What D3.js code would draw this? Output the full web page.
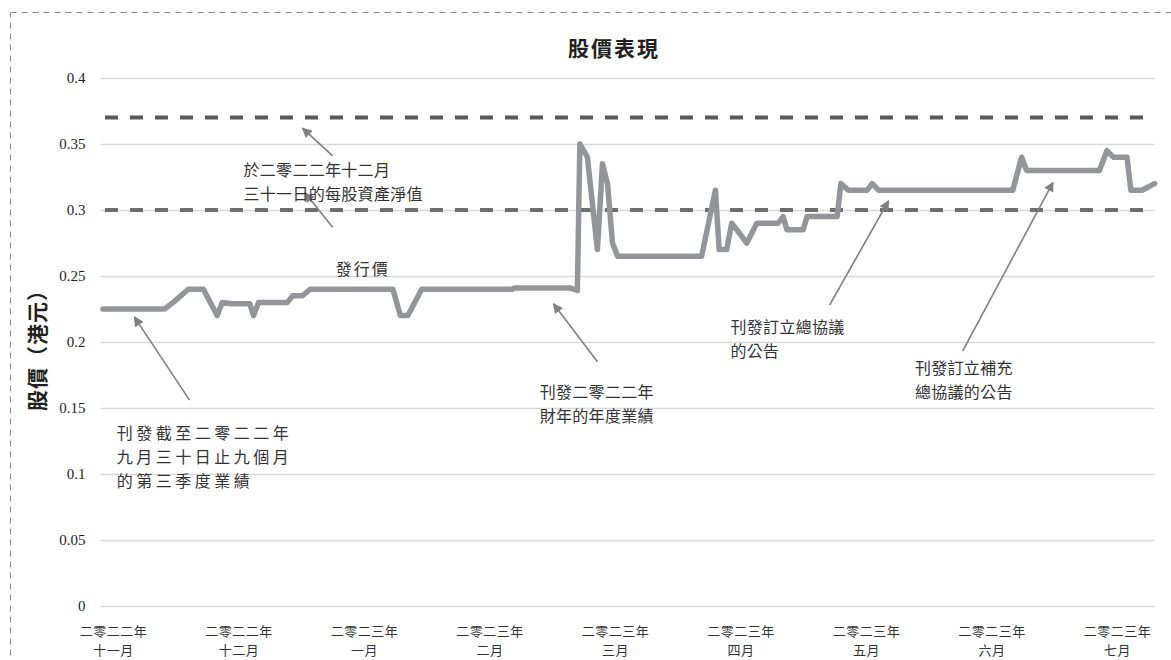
<!DOCTYPE html>
<html>
<head>
<meta charset="utf-8">
<script src="https://cdn.jsdelivr.net/npm/d3@7"></script>
<style>
  body { margin: 0; background: #fff; }
  .cjk { font-family: "Noto Sans CJK TC", "Noto Sans CJK SC", sans-serif; }
</style>
</head>
<body>
<script>
// Share price data (x in month units: 0 = Nov 2022 label, 8 = Jul 2023 label)
const priceT = [-0.08, 0.41, 0.48, 0.60, 0.72, 0.83, 0.87, 0.95, 1.09, 1.12, 1.16, 1.39, 1.43, 1.51, 1.57,
  2.23, 2.29, 2.35, 2.46, 3.18, 3.20, 3.64, 3.70, 3.72, 3.78, 3.86, 3.90, 3.94, 3.98, 4.02,
  4.69, 4.80, 4.83, 4.89, 4.93, 5.05, 5.13, 5.30, 5.34, 5.37, 5.50, 5.53, 5.77, 5.80, 5.86,
  6.01, 6.05, 6.10, 7.17, 7.24, 7.28, 7.86, 7.92, 7.97, 8.08, 8.11, 8.20, 8.30];
const priceV = [0.225, 0.225, 0.23, 0.24, 0.24, 0.22, 0.23, 0.229, 0.229, 0.22, 0.23, 0.23, 0.235, 0.235, 0.24,
  0.24, 0.22, 0.22, 0.24, 0.24, 0.241, 0.241, 0.239, 0.35, 0.34, 0.27, 0.335, 0.32, 0.275, 0.265,
  0.265, 0.315, 0.27, 0.27, 0.29, 0.275, 0.29, 0.29, 0.295, 0.285, 0.285, 0.295, 0.295, 0.32, 0.315,
  0.315, 0.32, 0.315, 0.315, 0.34, 0.33, 0.33, 0.345, 0.34, 0.34, 0.315, 0.315, 0.32];

// reference levels
const navValue = 0.37;
const issuePrice = 0.30;

// axis labels
const yTicks = [0, 0.05, 0.1, 0.15, 0.2, 0.25, 0.3, 0.35, 0.4];
const monthIdx = [0, 1, 2, 3, 4, 5, 6, 7, 8];
const yearLabels = ["二零二二年", "二零二二年", "二零二三年", "二零二三年", "二零二三年", "二零二三年", "二零二三年", "二零二三年", "二零二三年"];
const monthLabels = ["十一月", "十二月", "一月", "二月", "三月", "四月", "五月", "六月", "七月"];

// annotations: text lines, text anchor (t, v), arrow tail and head (t, v)
const noteLines = [
  ["於二零二二年十二月", "三十一日的每股資產淨值"],
  ["發行價"],
  ["刊發截至二零二二年", "九月三十日止九個月", "的第三季度業績"],
  ["刊發二零二二年", "財年的年度業績"],
  ["刊發訂立總協議", "的公告"],
  ["刊發訂立補充", "總協議的公告"]
];
const noteAnchor = [[1.04, 0.331], [1.99, 0.256], [0.03, 0.1318], [3.40, 0.163], [4.92, 0.212], [6.39, 0.181]];
const noteAlign = ["start", "middle", "start", "start", "start", "start"];
const noteSpacing = [0.3, 2, 3.5, 0.3, 0.3, 0.3];
const arrowTail = [[1.75, 0.341], [1.75, 0.287], [0.61, 0.156], [3.86, 0.185], [5.71, 0.228], [6.77, 0.193]];
const arrowHead = [[1.51, 0.362], [1.53, 0.313], [0.17, 0.219], [3.51, 0.229], [6.18, 0.307], [7.49, 0.321]];

const width = 1171;
const height = 660;

const svg = d3.select("body").append("svg")
  .attr("width", width)
  .attr("height", height);

// dashed outer frame
svg.append("rect")
  .attr("x", 10.5).attr("y", 12.5)
  .attr("width", 1200).attr("height", 700)
  .style("fill", "none")
  .style("stroke", "#8a8a8a")
  .style("stroke-width", 1)
  .style("stroke-dasharray", "6,5");

const xScale = d3.scaleLinear().domain([0, 8]).range([113, 1117]);
const yScale = d3.scaleLinear().domain([0, 0.4]).range([606, 78]);
const xMin = -0.1, xMax = 8.3;

// y axis with gridlines
const yAxis = d3.axisLeft(yScale)
  .tickValues(yTicks)
  .tickFormat(d3.format("~g"))
  .tickSize(-(xScale(xMax) - xScale(xMin)))
  .tickPadding(15);

const yG = svg.append("g")
  .attr("transform", "translate(" + xScale(xMin) + ",0)")
  .call(yAxis);
yG.select(".domain").remove();
yG.selectAll("line")
  .style("stroke", "#d9d9d9")
  .style("stroke-width", 1.5);
yG.selectAll("text")
  .style("font-family", "'Liberation Serif', serif")
  .style("font-size", "15px")
  .style("fill", "#231f20");

// x axis labels (two lines)
const xAxis = d3.axisBottom(xScale).tickValues(monthIdx).tickSize(0).tickFormat("");
const xG = svg.append("g")
  .attr("transform", "translate(0,606)")
  .call(xAxis);
xG.select(".domain").remove();
const xt = xG.selectAll(".tick").append("text")
  .attr("class", "cjk")
  .attr("text-anchor", "middle")
  .style("font-size", "13px")
  .style("letter-spacing", "0.5px")
  .style("fill", "#333");
xt.append("tspan").attr("x", 0).attr("y", 29.5).text((d, i) => yearLabels[i]);
xt.append("tspan").attr("x", 0).attr("y", 48.5).text((d, i) => monthLabels[i]);

// reference dashed lines
svg.append("line")
  .attr("x1", xScale(-0.064)).attr("x2", xScale(xMax))
  .attr("y1", yScale(navValue)).attr("y2", yScale(navValue))
  .style("stroke", "#595959").style("stroke-width", 4)
  .style("stroke-dasharray", "13,12");
svg.append("line")
  .attr("x1", xScale(-0.064)).attr("x2", xScale(xMax))
  .attr("y1", yScale(issuePrice)).attr("y2", yScale(issuePrice))
  .style("stroke", "#6e6e6e").style("stroke-width", 4)
  .style("stroke-dasharray", "13,12");

// price line
const priceData = priceT.map((t, i) => ({ t: t, v: priceV[i] }));
const line = d3.line().x(d => xScale(d.t)).y(d => yScale(d.v));
svg.append("path")
  .datum(priceData)
  .attr("d", line)
  .style("fill", "none")
  .style("stroke", "#939598")
  .style("stroke-width", 5.5)
  .style("stroke-linejoin", "round")
  .style("stroke-linecap", "round");

// arrow marker
svg.append("defs").append("marker")
  .attr("id", "arrow")
  .attr("viewBox", "0 0 10 10")
  .attr("refX", 9).attr("refY", 5)
  .attr("markerWidth", 11).attr("markerHeight", 10)
  .attr("markerUnits", "userSpaceOnUse")
  .attr("orient", "auto")
  .append("path")
  .attr("d", "M0,0 L10,5 L0,10 Z")
  .style("fill", "#808080");

svg.selectAll(".arrow")
  .data(arrowTail)
  .enter()
  .append("line")
  .attr("class", "arrow")
  .attr("x1", d => xScale(d[0])).attr("y1", d => yScale(d[1]))
  .attr("x2", (d, i) => xScale(arrowHead[i][0])).attr("y2", (d, i) => yScale(arrowHead[i][1]))
  .style("stroke", "#808080")
  .style("stroke-width", 1.6)
  .attr("marker-end", "url(#arrow)");

// annotation texts
const notes = svg.selectAll(".note")
  .data(noteLines)
  .enter()
  .append("text")
  .attr("class", "note cjk")
  .attr("text-anchor", (d, i) => noteAlign[i])
  .style("font-size", "16px")
  .style("letter-spacing", (d, i) => noteSpacing[i] + "px")
  .style("fill", "#333");
notes.each(function (d, i) {
  d3.select(this).selectAll("tspan")
    .data(d)
    .enter()
    .append("tspan")
    .attr("x", xScale(noteAnchor[i][0]))
    .attr("y", (s, j) => yScale(noteAnchor[i][1]) + j * 24)
    .attr("dominant-baseline", "central")
    .text(s => s);
});

// title
svg.append("text")
  .attr("class", "cjk")
  .attr("x", 614).attr("y", 47)
  .attr("text-anchor", "middle")
  .attr("dominant-baseline", "central")
  .style("font-size", "21px")
  .style("letter-spacing", "2px")
  .style("font-weight", "bold")
  .style("fill", "#231f20")
  .text("股價表現");

// y axis title
svg.append("text")
  .attr("class", "cjk")
  .attr("transform", "translate(36,345) rotate(-90)")
  .attr("text-anchor", "middle")
  .attr("dominant-baseline", "central")
  .style("font-size", "21px")
  .style("letter-spacing", "1px")
  .style("font-weight", "bold")
  .style("fill", "#231f20")
  .text("股價（港元）");
</script>
</body>
</html>
